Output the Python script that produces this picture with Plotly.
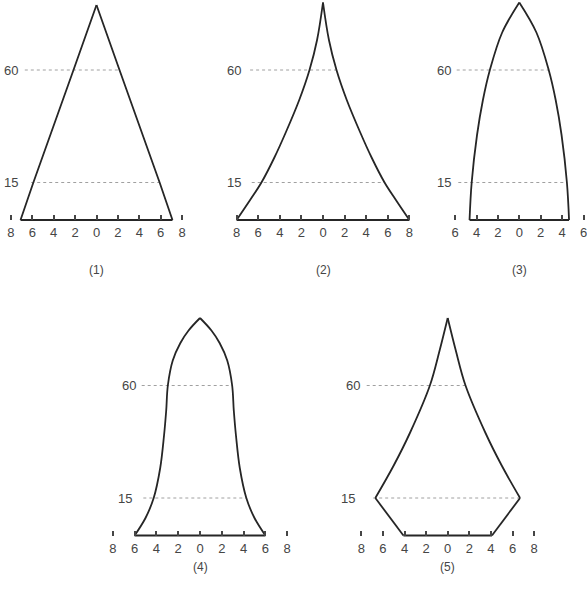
import plotly.graph_objects as go

W, H = 587, 603

# age (years) and half-width of each pyramid (% per side)
ages_1 = [0, 15, 60, 86]
width_1 = [7.1, 5.9, 2.15, 0]

ages_2 = [0, 8, 15, 25, 35, 48, 60, 72, 87]
width_2 = [8.0, 6.75, 5.7, 4.5, 3.45, 2.2, 1.25, 0.55, 0]

ages_3 = [0, 15, 34, 48, 60, 75, 87]
width_3 = [4.65, 4.45, 3.95, 3.4, 2.75, 1.6, 0]

ages_4 = [0, 7, 15, 27, 40, 50, 60, 70, 77, 82, 87]
width_4 = [6.0, 5.0, 4.25, 3.65, 3.3, 3.1, 2.95, 2.5, 1.8, 1.05, 0]

ages_5 = [0, 15, 28, 41, 60, 74, 87]
width_5 = [4.1, 6.7, 5.0, 3.5, 1.65, 0.75, 0]

marked_ages = [15, 60]
captions = ['(1)', '(2)', '(3)', '(4)', '(5)']
tick_max = [8, 8, 6, 8, 8]

ages = [ages_1, ages_2, ages_3, ages_4, ages_5]
widths = [width_1, width_2, width_3, width_4, width_5]

# layout of the five panels in pixels: centre x, px per unit, baseline y
centre_px = [96.5, 323, 519.3, 200, 447.7]
unit_px = [10.7, 10.8, 10.7, 10.9, 10.8]
base_px = [220, 220, 220, 535.5, 535.5]
caption_px = [270, 270, 270, 567, 567]
x_pad = [0.5, 0.5, 0.3, 0.5, 0.5]
smooth = [False, True, True, True, True]
kink = [0, 0, 0, 0, 1]          # index where the curved part begins
line_start = [[-6.1, -6.7], [-6.6, -6.75], [-5.7, -5.85], [-5.2, -5.35], [-6.9, -7.5]]
label_end = [[-7.15, -7.15], [-7.4, -7.4], [-6.2, -6.2], [-6.1, -5.7], [-8.4, -7.9]]

AGE_PX = 2.5
Y_RANGE = [-3, 88]
INK = '#262626'
GREY = '#a0a0a0'
TEXT = '#454545'
FONT = 'Liberation Sans, Arial, sans-serif'

fig = go.Figure()
annotations = []

for i in range(5):
    n = i + 1
    xa = 'x' if n == 1 else f'x{n}'
    ya = 'y' if n == 1 else f'y{n}'
    a, w = ages[i], widths[i]
    k = kink[i]

    # dotted reference lines at age 15 and 60
    for j, age in enumerate(marked_ages):
        right = w[a.index(age)]
        fig.add_trace(go.Scatter(x=[line_start[i][j], right], y=[age, age], mode='lines',
                                 line=dict(color=GREY, width=1, dash='dot'),
                                 xaxis=xa, yaxis=ya, hoverinfo='skip'))
        annotations.append(dict(x=label_end[i][j], y=age, xref=xa, yref=ya, text=str(age),
                                showarrow=False, xanchor='right', yanchor='middle',
                                font=dict(size=13, color=TEXT, family=FONT)))

    shape = 'spline' if smooth[i] else 'linear'
    for sign in (-1, 1):
        xs = [sign * v for v in w]
        # straight lower part (panel 5 only)
        if k > 0:
            fig.add_trace(go.Scatter(x=xs[:k + 1], y=a[:k + 1], mode='lines',
                                     line=dict(color=INK, width=1.8),
                                     xaxis=xa, yaxis=ya, hoverinfo='skip'))
        fig.add_trace(go.Scatter(x=xs[k:], y=a[k:], mode='lines',
                                 line=dict(color=INK, width=1.8, shape=shape, smoothing=1),
                                 xaxis=xa, yaxis=ya, hoverinfo='skip'))
    # base line
    fig.add_trace(go.Scatter(x=[-w[0], w[0]], y=[0, 0], mode='lines',
                             line=dict(color=INK, width=1.8),
                             xaxis=xa, yaxis=ya, hoverinfo='skip'))

    r = tick_max[i] + x_pad[i]
    c, u, b = centre_px[i], unit_px[i], base_px[i]
    x_dom = [(c - r * u) / W, (c + r * u) / W]
    y_dom = [1 - (b - Y_RANGE[0] * AGE_PX) / H, min(1.0, 1 - (b - Y_RANGE[1] * AGE_PX) / H)]
    tv = list(range(-tick_max[i], tick_max[i] + 1, 2))

    fig.update_layout({
        'xaxis' if n == 1 else f'xaxis{n}': dict(
            domain=x_dom, range=[-r, r], anchor='free', position=1 - b / H,
            tickmode='array', tickvals=tv, ticktext=[str(abs(t)) for t in tv],
            ticks='inside', ticklen=5, tickwidth=1.5, tickcolor=TEXT,
            ticklabelstandoff=3, ticklabeloverflow='allow',
            showline=False, showgrid=False, zeroline=False, fixedrange=True,
            tickfont=dict(size=13, color=TEXT, family=FONT)),
        'yaxis' if n == 1 else f'yaxis{n}': dict(
            domain=y_dom, range=Y_RANGE, visible=False, fixedrange=True),
    })

    annotations.append(dict(x=0, y=1 - caption_px[i] / H, xref=xa, yref='paper',
                            text=captions[i], showarrow=False,
                            xanchor='center', yanchor='middle',
                            font=dict(size=12, color=TEXT, family=FONT)))

fig.update_layout(width=W, height=H, margin=dict(l=0, r=0, t=0, b=0),
                  paper_bgcolor='white', plot_bgcolor='rgba(0,0,0,0)',
                  showlegend=False, annotations=annotations)

# drop the browser's default body margin so the figure sits at the page corner
fig.write_html("out.html", config={'displayModeBar': False},
               post_script="document.body.style.margin = '0';")
